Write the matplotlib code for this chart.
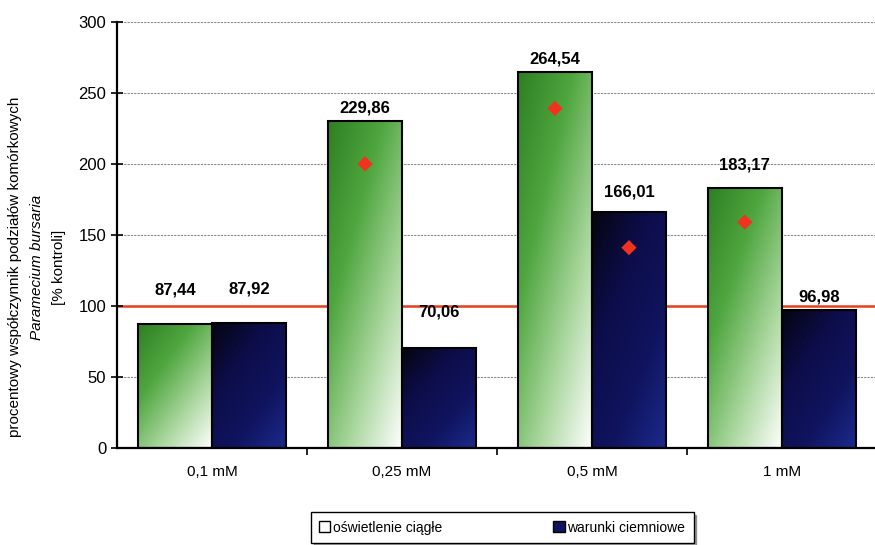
import matplotlib
matplotlib.use("Agg")
import matplotlib.pyplot as plt
import numpy as np
from matplotlib.colors import LinearSegmentedColormap
from matplotlib.patches import Patch

plt.rcParams["font.family"] = ["Liberation Sans", "DejaVu Sans"]

categories = ["0,1 mM", "0,25 mM", "0,5 mM", "1 mM"]
light = [87.44, 229.86, 264.54, 183.17]      # oświetlenie ciągłe
dark = [87.92, 70.06, 166.01, 96.98]         # warunki ciemniowe
light_labels = ["87,44", "229,86", "264,54", "183,17"]
dark_labels = ["87,92", "70,06", "166,01", "96,98"]
# red diamond markers (x = category index, offset side, value)
marker_cat = [1, 2, 2, 3]
marker_side = [-1, -1, 1, -1]
marker_val = [200, 239, 141, 159]
control = 100

# label offsets above bar tops (points)
light_off = [19, 4, 4, 11]
dark_off = [19, 21, 9, 4]

green_cmap = LinearSegmentedColormap.from_list(
    "g", ["#2f7f22", "#4fa63f", "#a8d69c", "#ffffff"])
navy_cmap = LinearSegmentedColormap.from_list(
    "n", ["#050510", "#0d0d4a", "#10145e", "#1b2a8c"])


def gradient_bar(ax, bar, cmap):
    x0, y0 = bar.get_x(), bar.get_y()
    w, h = bar.get_width(), bar.get_height()
    xs = np.linspace(0, 1, 60)
    ys = np.linspace(0, 1, 200)
    X, Y = np.meshgrid(xs, ys)
    T = 0.45 * X + 0.55 * (1 - Y)
    im = ax.imshow(T, cmap=cmap, extent=(x0, x0 + w, y0 + h, y0),
                   aspect="auto", vmin=0, vmax=1, zorder=2)
    im.set_clip_path(bar)


fig = plt.figure(figsize=(8.75, 5.45), dpi=100)
ax = fig.add_axes([0.134, 0.178, 0.868, 0.782])

x = np.arange(len(categories))
w = 0.39
bl = ax.bar(x - w / 2, light, w, facecolor="none", edgecolor="black",
            linewidth=1.5, zorder=3)
bd = ax.bar(x + w / 2, dark, w, facecolor="none", edgecolor="black",
            linewidth=1.5, zorder=3)
for b in bl:
    gradient_bar(ax, b, green_cmap)
for b in bd:
    gradient_bar(ax, b, navy_cmap)

ax.axhline(control, color="#e4401c", linewidth=1.8, zorder=1)
for v in [50, 150, 200, 250, 300]:
    ax.axhline(v, color="#888888", linewidth=0.8, linestyle=(0, (2, 1)), zorder=0)

mx = [c + s * w / 2 for c, s in zip(marker_cat, marker_side)]
ax.scatter(mx, marker_val, marker="D", s=60, color="#f0321e", zorder=5,
           edgecolors="none")

for b, lab, off in zip(bl, light_labels, light_off):
    ax.annotate(lab, (b.get_x() + b.get_width() / 2, b.get_height()),
                xytext=(0, off), textcoords="offset points", ha="center",
                va="bottom", fontsize=12, fontweight="bold")
for b, lab, off in zip(bd, dark_labels, dark_off):
    ax.annotate(lab, (b.get_x() + b.get_width() / 2, b.get_height()),
                xytext=(0, off), textcoords="offset points", ha="center",
                va="bottom", fontsize=12, fontweight="bold")

ax.set_xlim(-0.5, 3.5)
ax.set_ylim(0, 300)
ax.set_yticks([0, 50, 100, 150, 200, 250, 300])
ax.tick_params(axis="y", labelsize=12, direction="inout", length=9, width=1.2)
ax.set_xticks(x)
ax.set_xticklabels(categories, fontsize=11)
ax.tick_params(axis="x", length=0, pad=12)
ax.set_xticks([0.5, 1.5, 2.5], minor=True)
ax.tick_params(axis="x", which="minor", direction="out", length=5, width=1.2)
for s in ["top", "right"]:
    ax.spines[s].set_visible(False)
ax.spines["left"].set_linewidth(1.6)
ax.spines["bottom"].set_linewidth(1.6)

fig.text(0.017, 0.51, "procentowy współczynnik podziałów komórkowych",
         rotation=90, ha="center", va="center", fontsize=11)
fig.text(0.042, 0.51, "Paramecium bursaria", rotation=90, ha="center",
         va="center", fontsize=11, style="italic")
fig.text(0.067, 0.51, "[% kontroli]", rotation=90, ha="center",
         va="center", fontsize=11)

handles = [Patch(facecolor="white", edgecolor="black", label="oświetlenie ciągłe"),
           Patch(facecolor="#10145e", edgecolor="black", label="warunki ciemniowe")]
leg = fig.legend(handles=handles, loc="center", bbox_to_anchor=(0.574, 0.032),
                 ncol=2, fontsize=10, frameon=True, fancybox=False, shadow=True,
                 edgecolor="black", handlelength=0.8, handleheight=0.8,
                 handletextpad=0.2, columnspacing=8, borderpad=0.6)
leg.get_frame().set_linewidth(1.0)

fig.savefig("out.png", dpi=100)
